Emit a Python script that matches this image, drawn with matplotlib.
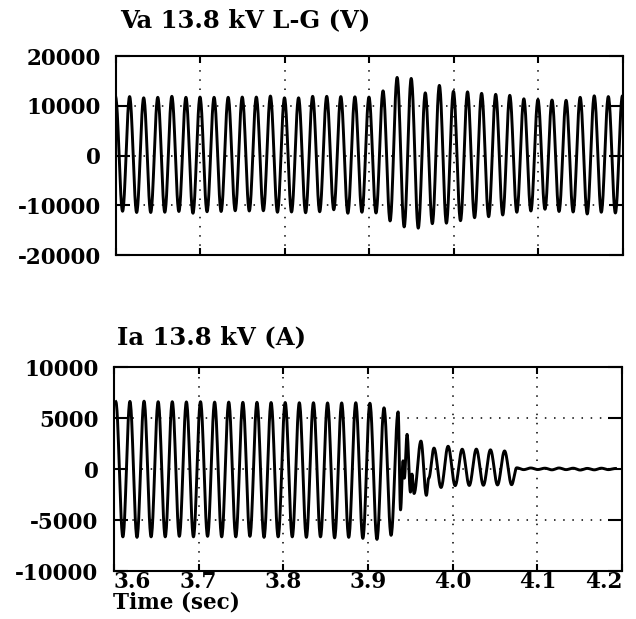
import numpy as np
import matplotlib
matplotlib.use("Agg")
import matplotlib.pyplot as plt

# ---------------- data ----------------
FREQ = 60.0
T_START, T_END = 3.6, 4.2

# Va 13.8 kV L-G : one trough then one peak per cycle (V)
v_first_peak_time = 3.6161
v_peaks = [11850, 11600, 11700, 11900, 11700, 11750, 11700, 11700, 11750, 11750,
           11950, 11600, 11600, 11900, 11900, 11850, 11800, 11750, 13000, 15700,
           15500, 12600, 14100, 12900, 12800, 12500, 12300, 12100, 11400, 11250,
           11150, 11100, 11700, 12000, 11850, 12000]
v_troughs = [-11200, -11450, -11450, -11400, -11250, -11600, -11300, -11250, -11100, -11150,
             -11100, -11400, -11350, -11500, -11300, -10900, -11600, -11400, -11550, -13150,
             -14350, -14600, -13700, -13600, -13100, -12500, -12300, -11950, -11400, -11150,
             -10800, -11250, -11350, -11750, -11400, -11550]
v_prior_peak = 11800

# Ia 13.8 kV : pre-fault cycles (trough then peak) (A)
i_first_peak_time = 3.619
i_prior_peak = 6600
i_pre_troughs = [-6650, -6700, -6650, -6650, -6600, -6650, -6600, -6650, -6650, -6600,
                 -6700, -6650, -6650, -6700, -6650, -6750, -6700, -6800, -6900, -6500]
i_pre_peaks = [6630, 6650, 6600, 6600, 6580, 6600, 6560, 6560, 6540, 6540,
               6520, 6520, 6500, 6500, 6480, 6480, 6500, 6450, 6000, 5600]
# fault-clearing transient extrema
i_trans_time = [3.9385, 3.9415, 3.9430, 3.9462, 3.9502, 3.9520, 3.9545, 3.9626, 3.9690, 3.9718]
i_trans_vals = [-4000, 800, -900, 3400, -2260, -500, -2400, 2740, -2580, -900]
# post-fault oscillation (peak then trough)
i_post_first_peak_time = 3.978
i_post_peaks = [2050, 2230, 1940, 1950, 1880, 1770]
i_post_troughs = [-1810, -1630, -1610, -1590, -1560, -1540]
# residual ripple after the breaker opens
i_tail_start = 4.0756
i_tail = [120, -60, 100, -50, 80, -80, 100, -60, 80, -100, 60, -80, 80, -60, 50]

v_ticks = [20000, 10000, 0, -10000, -20000]
v_ticklabels = ["20000", "10000", "0", "-10000", "-20000"]
i_ticks = [10000, 5000, 0, -5000, -10000]
i_ticklabels = ["10000", "5000", "0", "-5000", "-10000"]
t_ticks = [3.6, 3.7, 3.8, 3.9, 4.0, 4.1, 4.2]
t_ticklabels = ["3.6", "3.7", "3.8", "3.9", "4.0", "4.1", "4.2"]
title_v = "Va 13.8 kV L-G (V)"
title_i = "Ia 13.8 kV (A)"
xlabel = "Time (sec)"


# ---------------- helpers ----------------
def smooth_through(ts, vs, n=24):
    """Join successive extrema with half-cosine segments."""
    out_t, out_v = [], []
    for a in range(len(ts) - 1):
        s = np.linspace(0, 1, n, endpoint=False)
        out_t.append(ts[a] + (ts[a + 1] - ts[a]) * s)
        out_v.append(vs[a] + (vs[a + 1] - vs[a]) * (1 - np.cos(np.pi * s)) / 2)
    out_t.append(np.array([ts[-1]]))
    out_v.append(np.array([vs[-1]]))
    return np.concatenate(out_t), np.concatenate(out_v)


P = 1.0 / FREQ
# voltage extrema
vt, vv = [v_first_peak_time - P], [v_prior_peak]
for k in range(len(v_peaks)):
    vt += [v_first_peak_time + k * P - P / 2, v_first_peak_time + k * P]
    vv += [v_troughs[k], v_peaks[k]]
vt.append(vt[-1] + P / 2)
vv.append(v_troughs[-1])
v_t, v_y = smooth_through(vt, vv)

# current extrema
it, iv = [i_first_peak_time - P], [i_prior_peak]
for k in range(len(i_pre_peaks)):
    it += [i_first_peak_time + k * P - P / 2, i_first_peak_time + k * P]
    iv += [i_pre_troughs[k], i_pre_peaks[k]]
it += i_trans_time
iv += i_trans_vals
for k in range(len(i_post_peaks)):
    it += [i_post_first_peak_time + k * P, i_post_first_peak_time + k * P + P / 2]
    iv += [i_post_peaks[k], i_post_troughs[k]]
for j, val in enumerate(i_tail):
    it.append(i_tail_start + j * P / 2)
    iv.append(val)
i_t, i_y = smooth_through(it, iv)

# ---------------- figure ----------------
FONT = "DejaVu Serif"
plt.rcParams["font.family"] = FONT
plt.rcParams["font.weight"] = "bold"
TICK_FS = 15.5
TITLE_FS = 17.5

fig = plt.figure(figsize=(6.36, 6.19), dpi=100)
ax1 = fig.add_axes([0.1824, 0.588, 0.797, 0.3215])
ax2 = fig.add_axes([0.179, 0.0775, 0.799, 0.3296])

grid_style = dict(color="black", linewidth=1.1, linestyle=(0, (1, 5)))

for ax, t, y, ticks, labels, lim in [
    (ax1, v_t, v_y, v_ticks, v_ticklabels, (-20000, 20000)),
    (ax2, i_t, i_y, i_ticks, i_ticklabels, (-10000, 10000)),
]:
    ax.plot(t, y, color="black", linewidth=2.1, solid_joinstyle="round")
    ax.set_xlim(T_START, T_END)
    ax.set_ylim(*lim)
    ax.set_yticks(ticks)
    ax.set_yticklabels(labels, fontsize=TICK_FS, fontweight="bold", family=FONT)
    ax.set_xticks(t_ticks)
    for s in ax.spines.values():
        s.set_linewidth(1.5)
    ax.tick_params(axis="y", direction="in", length=10, width=1.5,
                   left=True, right=True, pad=11)
    ax.tick_params(axis="x", direction="in", length=5, width=1.5,
                   bottom=True, top=True)
    for xv in t_ticks[1:-1]:
        ax.axvline(xv, **grid_style, zorder=0)
    for yv in ticks[1:-1]:
        ax.axhline(yv, **grid_style, zorder=0)

ax1.set_xticklabels([])
ax2.set_xticklabels(t_ticklabels, fontsize=TICK_FS, fontweight="bold", family=FONT)
ax2.tick_params(axis="x", pad=0)
xl = ax2.get_xticklabels()
xl[0].set_ha("left")
xl[-1].set_ha("right")

fig.text(0.189, 0.968, title_v, ha="left", va="center", fontsize=TITLE_FS, fontweight="bold")
fig.text(0.184, 0.4556, title_i, ha="left", va="center", fontsize=TITLE_FS, fontweight="bold")
fig.text(0.177, 0.026, xlabel, ha="left", va="center", fontsize=15.5, fontweight="bold")

fig.savefig("out.png", dpi=100)
